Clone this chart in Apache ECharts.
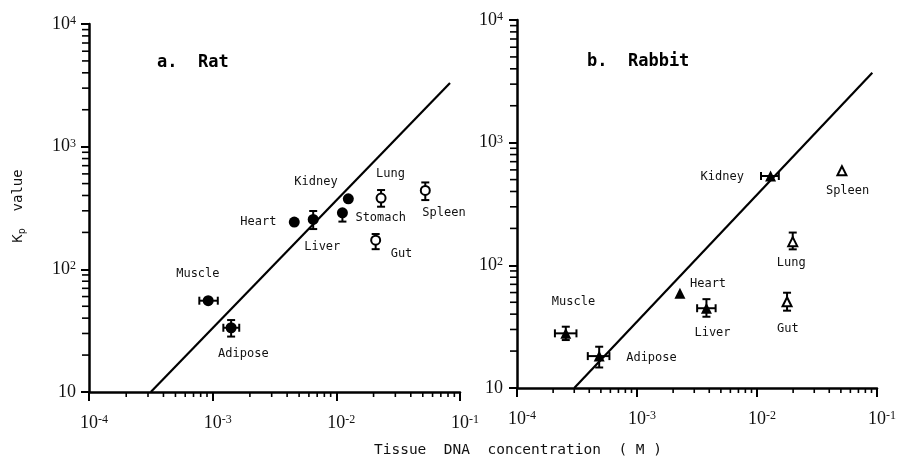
<!DOCTYPE html>
<html><head><meta charset="utf-8">
<script src="https://cdn.jsdelivr.net/npm/echarts@6/dist/echarts.min.js"></script>
<style>html,body{margin:0;padding:0;background:#fff}#c{width:899px;height:463px}</style>
</head><body><div id="c"></div>
<script>
// ---------- DATA ----------
// Panel a: Rat
const ratOrgans  = ['Heart','Liver','Kidney','Stomach','Lung','Spleen','Gut','Muscle','Adipose'];
const ratDNA     = [4.57e-3, 6.5e-3, 1.25e-2, 1.12e-2, 0.023, 0.0524, 0.0208, 9.2e-4, 1.41e-3];
const ratKp      = [243, 255, 376, 289, 381, 440, 173, 55.5, 33.4];
const ratFilled  = [true, true, true, true, false, false, false, true, true];
const ratXLo     = [null, null, null, null, null, null, null, 7.8e-4, 1.22e-3];
const ratXHi     = [null, null, null, null, null, null, null, 1.1e-3, 1.64e-3];
const ratYLo     = [null, 213, null, 245, 324, 367, 146, null, 28.3];
const ratYHi     = [null, 299, null, null, 443, 511, 194, null, 38.6];
const ratLineDNA = [3.16e-4, 0.083];
const ratLineKp  = [10, 3300];

// Panel b: Rabbit
const rabOrgans  = ['Kidney','Spleen','Lung','Gut','Heart','Liver','Muscle','Adipose'];
const rabDNA     = [0.01297, 0.051, 0.01985, 0.0178, 2.28e-3, 3.79e-3, 2.55e-4, 4.84e-4];
const rabKp      = [535, 590, 156, 50.5, 59.2, 44.7, 27.9, 18.2];
const rabFilled  = [true, false, false, false, true, true, true, true];
const rabXLo     = [0.0108, null, null, null, null, 3.17e-3, 2.07e-4, 3.89e-4];
const rabXHi     = [0.0152, null, null, null, null, 4.52e-3, 3.13e-4, 5.89e-4];
const rabYLo     = [null, null, 135, 42.7, null, 38.1, 24.6, 14.7];
const rabYHi     = [null, null, 185, 59.8, null, 53, 31.6, 21.7];
const rabLineDNA = [3.0e-4, 0.0914];
const rabLineKp  = [10, 3716];

// Axis ranges and tick values
const xMin = 1e-4, xMax = 1e-1, yMin = 10, yMax = 1e4;
const minorMult = [2,3,4,5,6,7,8,9];
const xDecades = [1e-4, 1e-3, 1e-2];
const yDecades = [10, 100, 1000];

// ---------- STYLE / LAYOUT ----------
// label offsets (px) relative to marker centre: [dx, dy]
const ratLabelOff = [[-54,0],[-9,27],[-54,-17],[13,5],[-5,-24],[-3,22],[15,14],[-32,-27],[-13,26]];
const rabLabelOff = [[-70,1],[-16,20],[-16,21],[-10,27],[10,-9],[-12,25],[-14,-31],[27,2]];

const MONO = 'DejaVu Sans Mono';
const NUMF = 'Liberation Serif';

const xMinorTicks = [];
xDecades.forEach(d => minorMult.forEach(m => xMinorTicks.push(+(m*d).toPrecision(6))));
const yMinorTicks = [];
yDecades.forEach(d => minorMult.forEach(m => yMinorTicks.push(m*d)));

function expLabel(v, plainTen) {
  const e = Math.round(Math.log10(v));
  if (plainTen && e === 1) return '{b|10}';
  return '{b|10}{s|' + e + '}';
}
const richNum = {
  b: {fontFamily: NUMF, fontSize: 18, color: '#111', lineHeight: 18, verticalAlign: 'middle'},
  s: {fontFamily: NUMF, fontSize: 12, color: '#111', lineHeight: 12, verticalAlign: 'top'}
};

function makeXAxis(gi) {
  return {
    gridIndex: gi, type: 'log', logBase: 10, min: xMin, max: xMax,
    splitLine: {show: false},
    axisLine: {lineStyle: {color: '#000', width: 2.5}},
    axisTick: {length: 9, lineStyle: {color: '#000', width: 2}},
    axisLabel: {margin: 22, formatter: v => expLabel(v, false), rich: richNum, padding: [0,0,0,10]}
  };
}
function makeYAxis(gi, margin) {
  return {
    gridIndex: gi, type: 'log', logBase: 10, min: yMin, max: yMax,
    splitLine: {show: false},
    axisLine: {lineStyle: {color: '#000', width: 2.5}},
    axisTick: {length: 8, lineStyle: {color: '#000', width: 2}},
    axisLabel: {margin: margin, formatter: v => expLabel(v, true), rich: richNum}
  };
}

function errSeries(gi, xs, ys, xlo, xhi, ylo, yhi) {
  return {
    type: 'custom', xAxisIndex: gi, yAxisIndex: gi, z: 3,
    data: xs.map((x, i) => [x, ys[i]]),
    renderItem: function (params, api) {
      const i = params.dataIndex;
      const c = api.coord([xs[i], ys[i]]);
      const st = {stroke: '#000', lineWidth: 2};
      const cap = 4;
      const ch = [];
      const seg = (x1,y1,x2,y2) => ch.push({type:'line', shape:{x1,y1,x2,y2}, style: st});
      if (ylo[i] != null) { const p = api.coord([xs[i], ylo[i]]); seg(c[0],c[1],c[0],p[1]); seg(c[0]-cap,p[1],c[0]+cap,p[1]); }
      if (yhi[i] != null) { const p = api.coord([xs[i], yhi[i]]); seg(c[0],c[1],c[0],p[1]); seg(c[0]-cap,p[1],c[0]+cap,p[1]); }
      if (xlo[i] != null) { const p = api.coord([xlo[i], ys[i]]); seg(c[0],c[1],p[0],c[1]); seg(p[0],c[1]-cap,p[0],c[1]+cap); }
      if (xhi[i] != null) { const p = api.coord([xhi[i], ys[i]]); seg(c[0],c[1],p[0],c[1]); seg(p[0],c[1]-cap,p[0],c[1]+cap); }
      return {type: 'group', children: ch};
    }
  };
}

function pointSeries(gi, names, xs, ys, filled, offs, shape) {
  return {
    type: 'scatter', xAxisIndex: gi, yAxisIndex: gi, z: 4,
    symbol: shape,
    data: xs.map((x, i) => ({
      name: names[i], value: [x, ys[i]],
      symbolSize: filled[i] ? 11 : 9,
      itemStyle: {color: filled[i] ? '#000' : '#fff', borderColor: '#000', borderWidth: filled[i] ? 0 : 2, opacity: 1},
      label: {show: true, position: 'inside', offset: offs[i], align: 'left', verticalAlign: 'middle',
              formatter: '{b}', color: '#111', fontFamily: MONO, fontSize: 12}
    })),
    emphasis: {disabled: true}
  };
}

function lineSeries(gi, xs, ys) {
  return {
    type: 'line', xAxisIndex: gi, yAxisIndex: gi, z: 2, symbol: 'none', silent: true,
    data: xs.map((x, i) => [x, ys[i]]),
    lineStyle: {color: '#000', width: 2.2}
  };
}

function minorTickSeries(gi) {
  return [{
    type: 'custom', xAxisIndex: gi, yAxisIndex: gi, z: 5, silent: true,
    data: xMinorTicks.map(v => [v, yMin]),
    renderItem: (p, api) => { const c = api.coord([api.value(0), api.value(1)]);
      return {type:'line', shape:{x1:c[0], y1:c[1], x2:c[0], y2:c[1]+5}, style:{stroke:'#000', lineWidth:1.6}}; }
  }, {
    type: 'custom', xAxisIndex: gi, yAxisIndex: gi, z: 5, silent: true,
    data: yMinorTicks.map(v => [xMin, v]),
    renderItem: (p, api) => { const c = api.coord([api.value(0), api.value(1)]);
      return {type:'line', shape:{x1:c[0]-7, y1:c[1], x2:c[0], y2:c[1]}, style:{stroke:'#000', lineWidth:1.6}}; }
  }];
}

const chart = echarts.init(document.getElementById('c'), null, {renderer: 'canvas'});
chart.setOption({
  animation: false,
  backgroundColor: '#fff',
  title: [
    {text: 'a.  Rat', left: 157, top: 54, padding: 0, textStyle: {fontFamily: MONO, fontWeight: 'bold', fontSize: 17, color: '#000'}},
    {text: 'b.  Rabbit', left: 587, top: 53, padding: 0, textStyle: {fontFamily: MONO, fontWeight: 'bold', fontSize: 17, color: '#000'}}
  ],
  grid: [
    {left: 89, top: 24, width: 371, height: 368},
    {left: 517, top: 20, width: 371, height: 368}
  ],
  xAxis: [makeXAxis(0), makeXAxis(1)],
  yAxis: [makeYAxis(0, 13), makeYAxis(1, 14)],
  series: [
    lineSeries(0, ratLineDNA, ratLineKp),
    lineSeries(1, rabLineDNA, rabLineKp),
    errSeries(0, ratDNA, ratKp, ratXLo, ratXHi, ratYLo, ratYHi),
    errSeries(1, rabDNA, rabKp, rabXLo, rabXHi, rabYLo, rabYHi),
    pointSeries(0, ratOrgans, ratDNA, ratKp, ratFilled, ratLabelOff, 'circle'),
    pointSeries(1, rabOrgans, rabDNA, rabKp, rabFilled, rabLabelOff, 'triangle'),
    ...minorTickSeries(0),
    ...minorTickSeries(1)
  ],
  graphic: [
    {type: 'text', x: 518, y: 450, style: {text: 'Tissue  DNA  concentration  ( M )', fontFamily: MONO, fontSize: 14.5, fill: '#111', align: 'center', verticalAlign: 'middle'}},
    {type: 'text', x: 18, y: 206, rotation: Math.PI/2,
     style: {text: '{k|K}{p|p}{k|  value}', align: 'center', verticalAlign: 'middle',
       rich: {k: {fontFamily: MONO, fontSize: 14, fill: '#111', color: '#111', lineHeight: 18, verticalAlign: 'middle'},
              p: {fontFamily: MONO, fontSize: 10, fill: '#111', color: '#111', lineHeight: 18, verticalAlign: 'bottom'}}}}
  ]
});
</script>
</body></html>
